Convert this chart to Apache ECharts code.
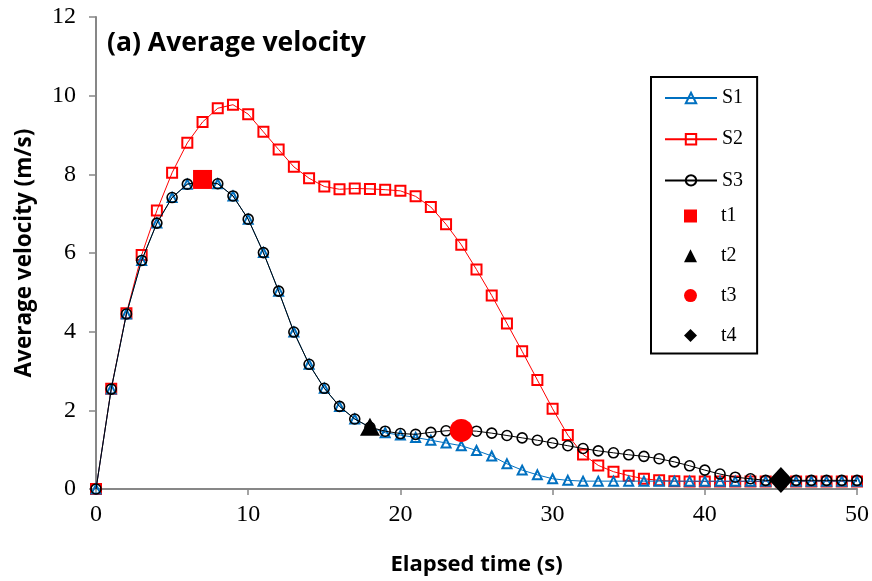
<!DOCTYPE html>
<html>
<head>
<meta charset="utf-8">
<script src="https://cdn.jsdelivr.net/npm/echarts@6/dist/echarts.min.js"></script>
<style>html,body{margin:0;padding:0;background:#fff}#c{width:872px;height:581px}</style>
</head>
<body>
<div id="c"></div>
<script>
var time = [0,1,2,3,4,5,6,7,8,9,10,11,12,13,14,15,16,17,18,19,20,21,22,23,24,25,26,27,28,29,30,31,32,33,34,35,36,37,38,39,40,41,42,43,44,45,46,47,48,49,50];
var s1 = [0,2.54,4.45,5.81,6.76,7.41,7.75,7.82,7.76,7.45,6.86,6.01,5.03,3.99,3.17,2.56,2.1,1.78,1.57,1.43,1.37,1.31,1.24,1.17,1.1,0.98,0.84,0.64,0.48,0.36,0.26,0.22,0.2,0.2,0.2,0.2,0.2,0.2,0.2,0.2,0.2,0.2,0.2,0.2,0.2,0.2,0.2,0.2,0.2,0.2,0.2];
var s2 = [0,2.55,4.47,5.95,7.08,8.04,8.8,9.33,9.68,9.77,9.53,9.08,8.63,8.19,7.9,7.69,7.62,7.64,7.63,7.61,7.58,7.44,7.17,6.73,6.21,5.58,4.92,4.21,3.5,2.77,2.04,1.37,0.88,0.6,0.44,0.34,0.26,0.22,0.2,0.19,0.19,0.19,0.19,0.19,0.19,0.19,0.19,0.19,0.19,0.19,0.19];
var s3 = [0,2.54,4.45,5.81,6.76,7.41,7.75,7.82,7.76,7.45,6.86,6.01,5.03,3.99,3.17,2.56,2.1,1.78,1.57,1.47,1.41,1.39,1.44,1.48,1.49,1.47,1.42,1.36,1.3,1.24,1.17,1.1,1.03,0.97,0.92,0.87,0.83,0.77,0.69,0.59,0.48,0.38,0.3,0.26,0.22,0.22,0.22,0.22,0.22,0.22,0.22];
var t1 = [7, 7.87];
var t2 = [18, 1.58];
var t3 = [24, 1.49];
var t4 = [45, 0.23];
var xTicks = [0,10,20,30,40,50];
var yTicks = [0,2,4,6,8,10,12];
var lineNames = ['S1','S2','S3'];
var markNames = ['t1','t2','t3','t4'];

function pairs(ys){ return time.map(function(t,i){ return [t, ys[i]]; }); }

var chart = echarts.init(document.getElementById('c'), null, {renderer:'canvas'});
var axisColor = '#878787';
var serif = '"Liberation Serif","Times New Roman",serif';
var sans = '"Open Sans","Noto Sans",sans-serif';
chart.setOption({
  animation:false,
  backgroundColor:'#fff',
  title:{text:'(a) Average velocity', left:102, top:25, textStyle:{fontFamily:sans, fontWeight:'bold', fontSize:26.5, color:'#000'}},
  grid:{left:96, right:13, top:17, bottom:91, containLabel:false},
  xAxis:{type:'value', min:0, max:50, interval:10,
    name:'Elapsed time (s)', nameLocation:'middle', nameGap:65,
    nameTextStyle:{fontFamily:sans, fontWeight:'bold', fontSize:22, color:'#000'},
    axisLine:{show:true, onZero:false, lineStyle:{color:axisColor, width:2}},
    axisTick:{show:true, inside:false, length:6, lineStyle:{color:axisColor, width:1.5}},
    axisLabel:{fontFamily:serif, fontSize:24, color:'#000', margin:14, formatter:function(v){return xTicks.indexOf(v)>=0? String(v):'';}},
    splitLine:{show:false}
  },
  yAxis:{type:'value', min:0, max:12, interval:2,
    name:'Average velocity (m/s)', nameLocation:'middle', nameGap:60,
    nameTextStyle:{fontFamily:sans, fontWeight:'bold', fontSize:22.5, color:'#000'},
    axisLine:{show:true, onZero:false, lineStyle:{color:axisColor, width:2}},
    axisTick:{show:true, inside:false, length:7, lineStyle:{color:axisColor, width:1.5}},
    axisLabel:{fontFamily:serif, fontSize:24, color:'#000', margin:20, formatter:function(v){return yTicks.indexOf(v)>=0? String(v):'';}},
    splitLine:{show:false}
  },
  legend:[
    {orient:'vertical', left:651, top:77, padding:[11,14,163,13],
      itemWidth:52, itemHeight:13, itemGap:21.2, z:4,
      borderColor:'#000', borderWidth:2, backgroundColor:'#fff',
      textStyle:{fontFamily:serif, fontSize:20, color:'#000'},
      data:lineNames},
    {orient:'vertical', left:684, top:206, padding:0,
      itemWidth:13, itemHeight:13, itemGap:19.8, z:6,
      textStyle:{fontFamily:serif, fontSize:20, color:'#000', padding:[0,0,0,19]},
      data:markNames}
  ],
  series:[
    {name:'S2', type:'line', data:pairs(s2), symbol:'rect', symbolSize:10, z:2,
      lineStyle:{color:'#ff0000', width:1}, itemStyle:{color:'rgba(255,255,255,0)', borderColor:'#ff0000', borderWidth:2}},
    {name:'S1', type:'line', data:pairs(s1), symbol:'triangle', symbolSize:9, z:3,
      lineStyle:{color:'#0070c0', width:1}, itemStyle:{color:'rgba(255,255,255,0)', borderColor:'#0070c0', borderWidth:2}},
    {name:'S3', type:'line', data:pairs(s3), symbol:'circle', symbolSize:10, z:4,
      lineStyle:{color:'#000', width:1}, itemStyle:{color:'rgba(255,255,255,0)', borderColor:'#000', borderWidth:1.6}},
    {name:'t1', type:'scatter', data:[t1], symbol:'rect', symbolSize:19, z:6, itemStyle:{color:'#ff0000', opacity:1}},
    {name:'t2', type:'scatter', data:[t2], symbol:'triangle', symbolSize:[20,18], z:6, itemStyle:{color:'#000', opacity:1}},
    {name:'t3', type:'scatter', data:[t3], symbol:'circle', symbolSize:23, z:6, itemStyle:{color:'#ff0000', opacity:1}},
    {name:'t4', type:'scatter', data:[t4], symbol:'diamond', symbolSize:[24,26], z:6, itemStyle:{color:'#000', opacity:1}}
  ]
});
</script>
</body>
</html>
